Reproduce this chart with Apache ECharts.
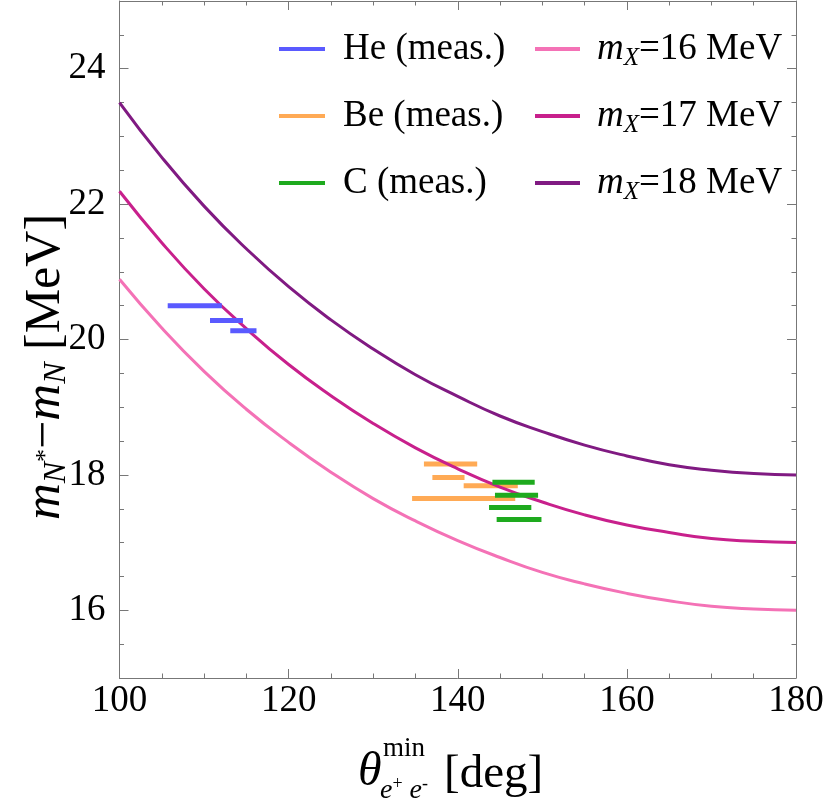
<!DOCTYPE html>
<html><head><meta charset="utf-8">
<script src="https://cdn.jsdelivr.net/npm/echarts@6/dist/echarts.min.js"></script>
<style>html,body{margin:0;padding:0;background:#fff}#c{width:830px;height:805px}</style>
</head><body><div id="c"></div><script>
// ---- data ----
const thetaDeg = [100,105,110,115,120,125,130,135,140,145,150,155,160,165,170,175,180];
const mX16 = [20.89,20.17,19.53,18.97,18.48,18.04,17.65,17.32,17.03,16.78,16.56,16.39,16.25,16.14,16.06,16.02,16.00];
const mX17 = [22.19,21.43,20.75,20.16,19.63,19.17,18.76,18.40,18.09,17.82,17.60,17.41,17.26,17.15,17.06,17.02,17.00];
const mX18 = [23.50,22.69,21.97,21.34,20.78,20.29,19.86,19.48,19.16,18.87,18.64,18.44,18.28,18.15,18.07,18.02,18.00];
const massLabels = ['16','17','18'];

const heY  = [20.50, 20.28, 20.13];
const heLo = [105.7, 110.7, 113.1];
const heHi = [112.1, 114.6, 116.2];

const beY  = [18.16, 17.96, 17.84, 17.65];
const beLo = [136.0, 137.0, 140.7, 134.6];
const beHi = [142.3, 140.8, 147.1, 146.8];

const cY   = [17.89, 17.70, 17.52, 17.34];
const cLo  = [144.1, 144.4, 143.7, 144.6];
const cHi  = [149.1, 149.5, 148.7, 149.9];

const xTicks = [100,120,140,160,180];
const yTicks = [16,18,20,22,24];

// ---- build ----
const FONT = 'Liberation Serif';
const FRAME = '#777';
function segs(lo, hi, y) {
  const d = [];
  for (let i = 0; i < y.length; i++) { d.push([lo[i], y[i]], [hi[i], y[i]], '-'); }
  return d;
}
function curve(vals) { return thetaDeg.map((t, i) => [t, vals[i]]); }
const curveNames = massLabels.map(m => 'mX' + m);

const xBase = {type:'value', min:100, max:180, interval:20, splitLine:{show:false},
  axisLine:{show:true, lineStyle:{color:FRAME, width:1}},
  axisTick:{show:true, inside:true, length:9, lineStyle:{color:FRAME}},
  minorTick:{show:true, splitNumber:4, length:4.5, lineStyle:{color:FRAME}}};
const yMinor = {type:'value', min:15, max:25, interval:0.5, splitLine:{show:false},
  axisLine:{show:true, lineStyle:{color:FRAME, width:1}},
  axisTick:{show:true, inside:true, length:4.5, lineStyle:{color:FRAME}}};
const yMajor = {type:'value', min:15, max:25, interval:0.5, splitLine:{show:false},
  axisLine:{show:false}, axisLabel:{show:false},
  axisTick:{show:true, inside:true, length:9, customValues:yTicks, lineStyle:{color:FRAME}}};

const LF = 37;
const legendRich = {
  n:{fontFamily:FONT, fontSize:LF, color:'#000'},
  i:{fontFamily:FONT, fontSize:LF, fontStyle:'italic', color:'#000', lineHeight:44},
  s:{fontFamily:FONT, fontSize:25, fontStyle:'italic', color:'#000', lineHeight:25, verticalAlign:'bottom'}
};

const option = {
  animation:false,
  backgroundColor:'#fff',
  grid:{left:119.5, right:34, top:1, bottom:127, containLabel:false},
  xAxis:[
    Object.assign({}, xBase, {position:'bottom',
      axisLabel:{show:true, margin:5, fontFamily:FONT, fontSize:37, color:'#000',
        formatter:v => xTicks.includes(v) ? String(v) : ''}}),
    Object.assign({}, xBase, {position:'top', axisLabel:{show:false}})
  ],
  yAxis:[
    Object.assign({}, yMinor, {position:'left',
      axisLabel:{show:true, margin:14, fontFamily:FONT, fontSize:37, color:'#000',
        formatter:v => yTicks.includes(v) ? String(v) : ''}}),
    Object.assign({}, yMajor, {position:'left'}),
    Object.assign({}, yMinor, {position:'right', axisLabel:{show:false}}),
    Object.assign({}, yMajor, {position:'right'})
  ],
  legend:[
    {left:274, top:22, orient:'vertical', itemGap:23, itemWidth:46, itemHeight:4, icon:'rect',
     data:['He (meas.)','Be (meas.)','C (meas.)'],
     textStyle:{fontFamily:FONT, fontSize:LF, color:'#000', lineHeight:44, padding:[0,0,0,13]}},
    {left:530, top:22, orient:'vertical', itemGap:23, itemWidth:45, itemHeight:4, icon:'rect',
     data:curveNames,
     formatter:name => '{i|m}{s|X}{n|=' + massLabels[curveNames.indexOf(name)] + ' MeV}',
     textStyle:{fontFamily:FONT, fontSize:LF, color:'#000', lineHeight:44, padding:[0,0,0,12], rich:legendRich}}
  ],
  graphic:[
    {type:'text', x:46, y:367, rotation:Math.PI/2,
     style:{text:'{i|m}{s|N}{p|*}{n|−}{i|m}{s|N}{n| [MeV]}', align:'center', verticalAlign:'middle',
       rich:{
         n:{fontFamily:FONT, fontSize:50, color:'#000', lineHeight:54},
         i:{fontFamily:FONT, fontSize:51, fontStyle:'italic', color:'#000', lineHeight:54},
         s:{fontFamily:FONT, fontSize:32, fontStyle:'italic', color:'#000', lineHeight:32, verticalAlign:'bottom'},
         p:{fontFamily:FONT, fontSize:26, color:'#000', lineHeight:26, verticalAlign:'middle'}
       }}},
    {type:'text', x:358, y:772, style:{text:'θ', fontFamily:FONT, fontSize:48, fontStyle:'italic', fill:'#000', verticalAlign:'middle'}},
    {type:'text', x:383, y:749, style:{text:'min', fontFamily:FONT, fontSize:27, fill:'#000', verticalAlign:'middle'}},
    {type:'text', x:380, y:790, style:{text:'{e|e}{p|+}{e| e}{p|-}', verticalAlign:'middle',
      rich:{e:{fontFamily:FONT, fontSize:28, fontStyle:'italic', fill:'#000', lineHeight:30, verticalAlign:'bottom'},
            p:{fontFamily:FONT, fontSize:18, fill:'#000', lineHeight:18, verticalAlign:'top'}}}},
    {type:'text', x:444, y:775, style:{text:'[deg]', fontFamily:FONT, fontSize:47, fill:'#000', verticalAlign:'middle'}}
  ],
  series:[
    {name:'He (meas.)', type:'line', data:segs(heLo, heHi, heY), showSymbol:false, symbol:'none', z:3,
     lineStyle:{color:'#5a5aff', width:5, cap:'butt'}, itemStyle:{color:'#5a5aff'}},
    {name:'Be (meas.)', type:'line', data:segs(beLo, beHi, beY), showSymbol:false, symbol:'none', z:1,
     lineStyle:{color:'#ffaa55', width:5, cap:'butt'}, itemStyle:{color:'#ffaa55'}},
    {name:'C (meas.)', type:'line', data:segs(cLo, cHi, cY), showSymbol:false, symbol:'none', z:3,
     lineStyle:{color:'#1eaa1e', width:5, cap:'butt'}, itemStyle:{color:'#1eaa1e'}},
    {name:curveNames[0], type:'line', data:curve(mX16), symbol:'none', smooth:true, z:2,
     lineStyle:{color:'#f472b6', width:3}, itemStyle:{color:'#f472b6'}},
    {name:curveNames[1], type:'line', data:curve(mX17), symbol:'none', smooth:true, z:2,
     lineStyle:{color:'#c8208c', width:3}, itemStyle:{color:'#c8208c'}},
    {name:curveNames[2], type:'line', data:curve(mX18), symbol:'none', smooth:true, z:2,
     lineStyle:{color:'#801a82', width:3}, itemStyle:{color:'#801a82'}}
  ]
};
echarts.init(document.getElementById('c'), null, {renderer:'canvas'}).setOption(option);
</script></body></html>
